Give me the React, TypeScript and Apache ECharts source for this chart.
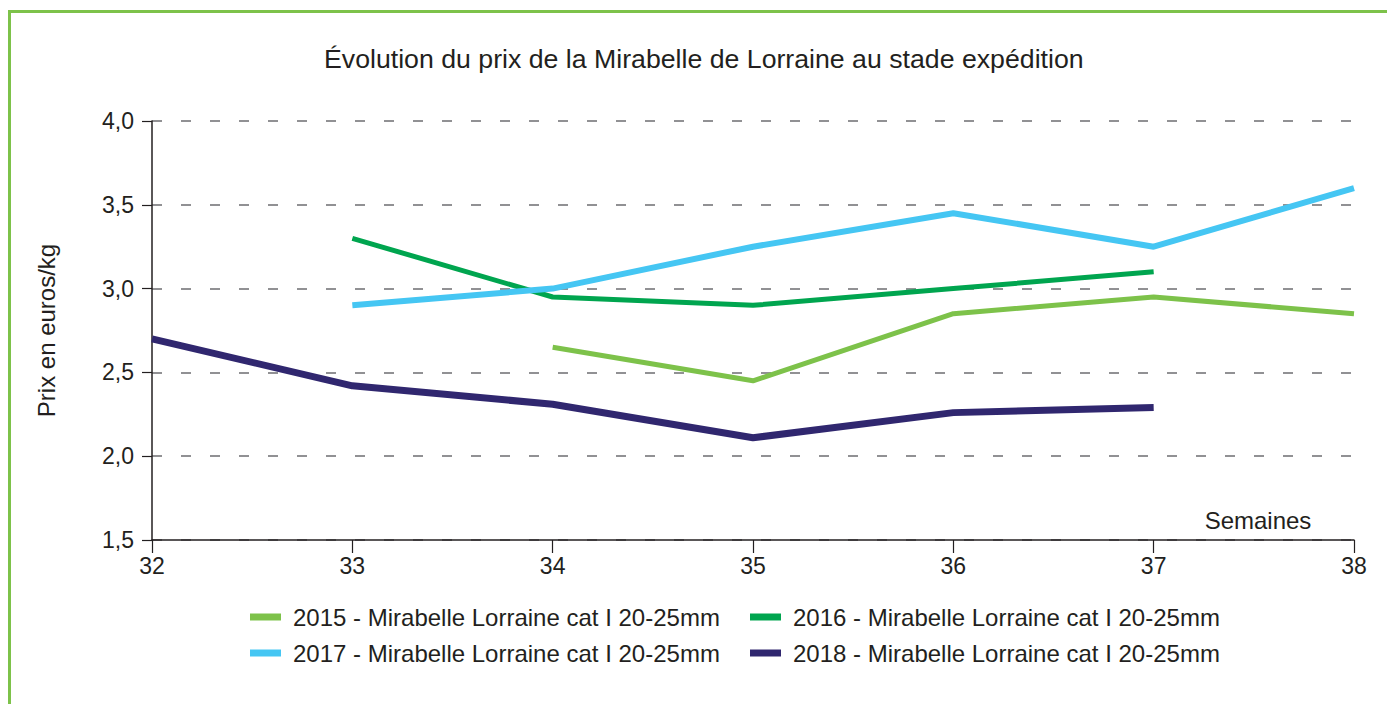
import React, { useEffect, useRef } from "react";
import * as echarts from "echarts";

const weeks = [32, 33, 34, 35, 36, 37, 38];
const yTicks = [1.5, 2.0, 2.5, 3.0, 3.5, 4.0];
const seriesNames = [
  "2015 - Mirabelle Lorraine cat I 20-25mm",
  "2016 - Mirabelle Lorraine cat I 20-25mm",
  "2017 - Mirabelle Lorraine cat I 20-25mm",
  "2018 - Mirabelle Lorraine cat I 20-25mm",
];
const v2015: (number | null)[] = [null, null, 2.65, 2.45, 2.85, 2.95, 2.85];
const v2016: (number | null)[] = [null, 3.3, 2.95, 2.9, 3.0, 3.1, null];
const v2017: (number | null)[] = [null, 2.9, 3.0, 3.25, 3.45, 3.25, 3.6];
const v2018: (number | null)[] = [2.7, 2.42, 2.31, 2.11, 2.26, 2.29, null];
const colors = ["#7dc24a", "#00a54f", "#45c6f3", "#30276f"];
const widths = [5, 5, 6, 7];

const FONT = "Liberation Sans, Arial, sans-serif";

export default function App() {
  const ref = useRef<HTMLDivElement>(null);
  useEffect(() => {
    document.body.style.margin = "0";
    const chart = echarts.init(ref.current!, null, { renderer: "svg" });
    const allValues = [v2015, v2016, v2017, v2018];
    const legendPos = [
      { left: 250, top: 605 },
      { left: 750, top: 605 },
      { left: 250, top: 641 },
      { left: 750, top: 641 },
    ];
    chart.setOption({
      animation: false,
      textStyle: { fontFamily: FONT },
      title: {
        text: "Évolution du prix de la Mirabelle de Lorraine au stade expédition",
        left: 324,
        top: 45,
        padding: 0,
        textStyle: { fontSize: 26.7, fontWeight: "normal", color: "#231f20", fontFamily: FONT },
      },
      legend: seriesNames.map((n, i) => ({
        data: [n],
        left: legendPos[i].left,
        top: legendPos[i].top,
        icon: "rect",
        itemWidth: 31,
        itemHeight: 7,
        itemGap: 0,
        padding: 0,
        selectedMode: false,
        textStyle: { fontSize: 24, color: "#231f20", fontFamily: FONT, padding: [0, 0, 0, 7] },
      })),
      grid: { left: 152, right: 33, top: 121, bottom: 164 },
      xAxis: {
        type: "value",
        min: 32,
        max: 38,
        interval: 1,
        axisLine: { lineStyle: { color: "#231f20", width: 1.5 } },
        axisTick: { show: true, length: 13, lineStyle: { color: "#231f20", width: 1.2 } },
        axisLabel: { fontSize: 23, color: "#231f20", margin: 14, fontFamily: FONT },
        splitLine: { show: false },
      },
      yAxis: {
        type: "value",
        min: 1.5,
        max: 4,
        interval: 0.5,
        name: "Prix en euros/kg",
        nameLocation: "middle",
        nameRotate: 90,
        nameGap: 94,
        nameTextStyle: { fontSize: 24, color: "#231f20", fontFamily: FONT },
        axisLine: { show: true, lineStyle: { color: "#231f20", width: 1.5 } },
        axisTick: { show: true, length: 10, lineStyle: { color: "#231f20", width: 1.2 } },
        axisLabel: {
          fontSize: 23,
          color: "#231f20",
          margin: 18,
          fontFamily: FONT,
          formatter: (v: number) => (yTicks.includes(v) ? v.toFixed(1).replace(".", ",") : ""),
        },
        splitLine: {
          show: true,
          lineStyle: { color: "#6d6e71", width: 1.5, type: [10, 19], dashOffset: 0 },
        },
      },
      graphic: [
        {
          type: "rect",
          shape: { x: 9.5, y: 11.5, width: 1400, height: 800 },
          style: { fill: "none", stroke: "#7dc24a", lineWidth: 3 },
          silent: true,
        },
        {
          type: "text",
          x: 1258,
          y: 520,
          style: {
            text: "Semaines",
            fontSize: 24,
            fill: "#231f20",
            fontFamily: FONT,
            textAlign: "center",
            textVerticalAlign: "middle",
          },
        },
      ],
      series: seriesNames.map((n, i) => ({
        name: n,
        type: "line",
        data: weeks.map((w, j) => [w, allValues[i][j]]),
        showSymbol: false,
        symbol: "none",
        connectNulls: false,
        lineStyle: { color: colors[i], width: widths[i] },
        itemStyle: { color: colors[i] },
        z: 3,
      })),
    });
    return () => chart.dispose();
  }, []);
  return <div ref={ref} style={{ width: 1387, height: 704 }} />;
}
